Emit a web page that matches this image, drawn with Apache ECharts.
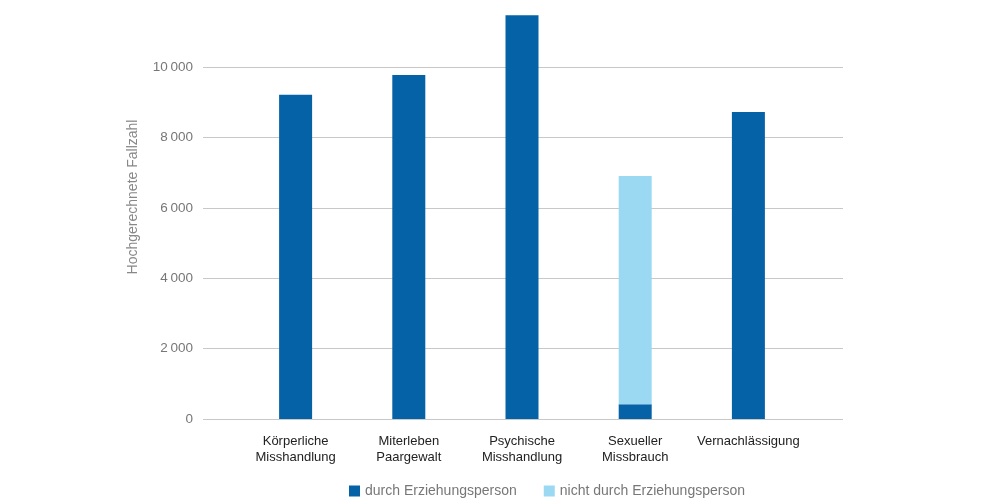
<!DOCTYPE html>
<html><head><meta charset="utf-8">
<script src="https://cdn.jsdelivr.net/npm/echarts@6/dist/echarts.min.js"></script>
<style>html,body{margin:0;padding:0;background:#fff}#c{width:1000px;height:500px}</style>
</head><body><div id="c"></div>
<script>
const categories = ['Körperliche\nMisshandlung', 'Miterleben\nPaargewalt', 'Psychische\nMisshandlung', 'Sexueller\nMissbrauch', 'Vernachlässigung'];
const durch = [9210, 9775, 11470, 420, 8725];
const nichtDurch = [0, 0, 0, 6480, 0];
const seriesNames = ['durch Erziehungsperson', 'nicht durch Erziehungsperson'];
const yTicks = [0, 2000, 4000, 6000, 8000, 10000, 12000];
const axisTitle = 'Hochgerechnete Fallzahl';

const font = 'Liberation Sans, Arial, sans-serif';
const chart = echarts.init(document.getElementById('c'));
chart.setOption({
  animation: false,
  textStyle: { fontFamily: font },
  legend: {
    top: 479, left: 344, itemWidth: 11, itemHeight: 11, itemGap: 27,
    icon: 'rect',
    textStyle: { color: '#777', fontSize: 14, fontFamily: font },
    data: seriesNames
  },
  graphic: [{
    type: 'text', x: 133, y: 197, rotation: Math.PI / 2,
    style: { text: axisTitle, fill: '#888', font: '14px ' + font, align: 'center', verticalAlign: 'middle' }
  }],
  grid: [
    { left: 203, right: 157, top: -3.4, bottom: 81, outerBoundsMode: 'none', containLabel: false },
    { left: 239, right: 195, top: -3.4, bottom: 81, outerBoundsMode: 'none', containLabel: false }
  ],
  xAxis: [
    { gridIndex: 0, type: 'category', data: [''], show: false },
    {
      gridIndex: 1, type: 'category', data: categories,
      axisLine: { show: false }, axisTick: { show: false },
      axisLabel: { color: '#222', fontSize: 13, lineHeight: 16, margin: 14, interval: 0, fontFamily: font }
    }
  ],
  yAxis: [
    {
      gridIndex: 0, type: 'value', min: 0, max: 12000, interval: 2000,
      axisLine: { show: false }, axisTick: { show: false },
      splitLine: { lineStyle: { color: '#c8c8c8', width: 1 } },
      axisLabel: {
        color: '#777', fontSize: 13.5, margin: 10, fontFamily: font, showMaxLabel: true,
        formatter: v => yTicks.includes(v) ? (v >= 10000 ? String(v).slice(0, 2) + '\u2009' + String(v).slice(2) : (v >= 1000 ? String(v).slice(0, 1) + '\u2009' + String(v).slice(1) : String(v))) : ''
      }
    },
    {
      gridIndex: 1, type: 'value', min: 0, max: 12000, interval: 2000, show: false
    }
  ],
  series: [
    { name: seriesNames[0], type: 'bar', stack: 's', xAxisIndex: 1, yAxisIndex: 1, data: durch, barWidth: 33, itemStyle: { color: '#0562a6' } },
    { name: seriesNames[1], type: 'bar', stack: 's', xAxisIndex: 1, yAxisIndex: 1, data: nichtDurch, barWidth: 33, itemStyle: { color: '#9bd9f2' } }
  ]
});
</script></body></html>
